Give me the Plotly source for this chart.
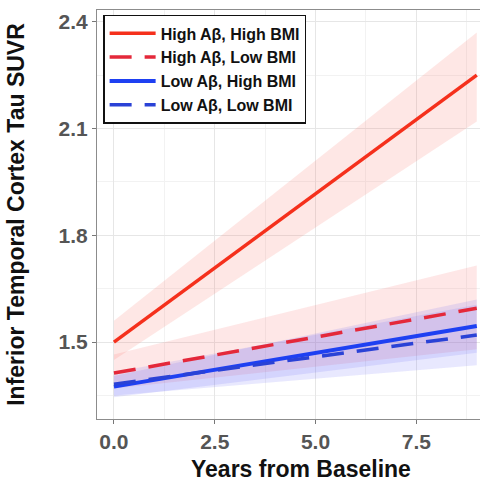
import plotly.graph_objects as go

# Model-predicted tau trajectories (fit line with confidence band)
years = [0, 9]

groups = ["High Aβ, High BMI", "High Aβ, Low BMI", "Low Aβ, High BMI", "Low Aβ, Low BMI"]
fit = {
    "High Aβ, High BMI": [1.50, 2.25],
    "High Aβ, Low BMI": [1.413, 1.595],
    "Low Aβ, High BMI": [1.375, 1.545],
    "Low Aβ, Low BMI": [1.382, 1.520],
}
lower = {
    "High Aβ, High BMI": [1.45, 2.12],
    "High Aβ, Low BMI": [1.37, 1.48],
    "Low Aβ, High BMI": [1.345, 1.47],
    "Low Aβ, Low BMI": [1.35, 1.435],
}
upper = {
    "High Aβ, High BMI": [1.56, 2.37],
    "High Aβ, Low BMI": [1.465, 1.715],
    "Low Aβ, High BMI": [1.405, 1.62],
    "Low Aβ, Low BMI": [1.415, 1.605],
}

line_color = {
    "High Aβ, High BMI": "#F5301C",
    "High Aβ, Low BMI": "#E4283A",
    "Low Aβ, High BMI": "#1E40F2",
    "Low Aβ, Low BMI": "#2A42D6",
}
band_color = {
    "High Aβ, High BMI": "rgba(250,110,100,0.17)",
    "High Aβ, Low BMI": "rgba(250,110,110,0.17)",
    "Low Aβ, High BMI": "rgba(90,90,250,0.14)",
    "Low Aβ, Low BMI": "rgba(90,90,250,0.14)",
}
dash = {
    "High Aβ, High BMI": "solid",
    "High Aβ, Low BMI": "22px,13px",
    "Low Aβ, High BMI": "solid",
    "Low Aβ, Low BMI": "22px,13px",
}
width = {
    "High Aβ, High BMI": 3.5,
    "High Aβ, Low BMI": 3.5,
    "Low Aβ, High BMI": 4.0,
    "Low Aβ, Low BMI": 3.5,
}

fig = go.Figure()

# confidence ribbons
for g in groups:
    fig.add_trace(go.Scatter(
        x=years + years[::-1],
        y=upper[g] + lower[g][::-1],
        fill="toself", fillcolor=band_color[g],
        line=dict(width=0), mode="lines",
        hoverinfo="skip", showlegend=False,
    ))

# fitted lines
for g in groups:
    fig.add_trace(go.Scatter(
        x=years, y=fit[g], mode="lines", name=g,
        line=dict(color=line_color[g], width=width[g], dash=dash[g]),
    ))

grid = "#E6E6E6"
minor_grid = "#F2F2F2"
family = "Liberation Sans, Arial, sans-serif"
tick_font = dict(family=family, size=21, color="#555555", weight="bold")

fig.update_layout(
    width=480, height=482,
    margin=dict(l=97, r=0, t=10, b=63),
    plot_bgcolor="white", paper_bgcolor="white",
    font=dict(family=family),
    showlegend=True,
    legend=dict(
        x=0.016, y=0.988, xanchor="left", yanchor="top",
        bgcolor="white", bordercolor="#111111", borderwidth=1.5,
        font=dict(size=16, color="#111111", family=family, weight="bold"),
        tracegroupgap=0, itemwidth=46,
    ),
    xaxis=dict(
        range=[-0.42, 9.08], tick0=0, dtick=2.5, tickformat=".1f",
        showgrid=True, gridcolor=grid, gridwidth=1,
        minor=dict(dtick=1.25, tick0=0, showgrid=True, gridcolor=minor_grid, gridwidth=1),
        showline=True, linecolor="#8C8C8C", linewidth=1, mirror=True,
        ticks="outside", ticklen=4, tickcolor="#777777",
        tickfont=tick_font,
        zeroline=False,
    ),
    yaxis=dict(
        range=[1.284, 2.433], tick0=1.5, dtick=0.3, tickformat=".1f",
        showgrid=True, gridcolor=grid, gridwidth=1,
        minor=dict(dtick=0.15, tick0=1.5, showgrid=True, gridcolor=minor_grid, gridwidth=1),
        showline=True, linecolor="#8C8C8C", linewidth=1, mirror=True,
        ticks="outside", ticklen=4, tickcolor="#777777",
        tickfont=tick_font,
        title=dict(text="Inferior Temporal Cortex Tau SUVR", standoff=27,
                   font=dict(size=23, color="#111111", weight="bold")),
        zeroline=False,
    ),
    annotations=[dict(
        text="Years from Baseline", xref="paper", yref="paper",
        x=(301 - 97) / 383, y=(419 - 469) / 409, xanchor="center", yanchor="middle",
        showarrow=False, font=dict(size=23, color="#111111", weight="bold"),
    )],
)

fig.write_html("out.html")
